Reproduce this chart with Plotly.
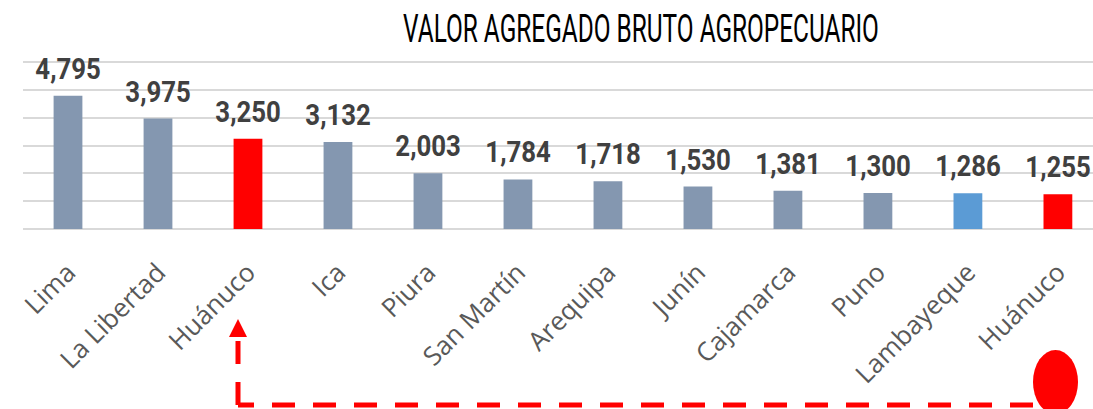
import plotly.graph_objects as go

# ── data ──────────────────────────────────────────────────────────────────────
REGIONS = ["Lima", "La Libertad", "Huánuco", "Ica", "Piura", "San Martín",
           "Arequipa", "Junín", "Cajamarca", "Puno", "Lambayeque", "Huánuco "]
VAB = [4795, 3975, 3250, 3132, 2003, 1784, 1718, 1530, 1381, 1300, 1286, 1255]
BAR_COLORS = ["#8497B0", "#8497B0", "#FF0000", "#8497B0", "#8497B0", "#8497B0",
              "#8497B0", "#8497B0", "#8497B0", "#8497B0", "#5B9BD5", "#FF0000"]
Y_MAX = 6300
Y_DTICK = 1000

W, H = 1093, 409
ML, MR, MT, MB = 23, 0, 54, 180
PW, PH = W - ML - MR, H - MT - MB


def px(x):
    """pixel x -> paper x"""
    return (x - ML) / PW


def py(y):
    """pixel y (from top) -> paper y"""
    return (H - MB - y) / PH


fig = go.Figure()
fig.add_trace(go.Bar(
    x=list(range(len(REGIONS))),
    y=VAB,
    width=0.32,
    marker=dict(color=BAR_COLORS, line=dict(width=0)),
    hoverinfo="skip",
))

# value labels above bars
for i, v in enumerate(VAB):
    fig.add_annotation(
        x=i, y=v, text=f"<b>{v:,}</b>", showarrow=False,
        xanchor="center", yanchor="bottom", yshift=8,
        font=dict(family="Roboto", size=30, color="#404040"),
    )

# top gridline, drawn by hand in paper space
fig.add_shape(type="line", xref="paper", yref="paper", layer="above",
              x0=0, x1=1, y0=py(62), y1=py(62),
              line=dict(color="#D9D9D9", width=2))

# red dashed arrow from the marker up to the Huánuco label
dash_line = dict(color="#FF0000", width=5, dash="23px,18px")
fig.add_shape(type="line", xref="paper", yref="paper",
              x0=px(1033), x1=px(238), y0=py(405), y1=py(405), line=dash_line)
fig.add_shape(type="line", xref="paper", yref="paper",
              x0=px(238), x1=px(238), y0=py(405), y1=py(338), line=dash_line)
fig.add_shape(type="path", xref="paper", yref="paper",
              path=f"M {px(229)} {py(337)} L {px(247)} {py(337)} L {px(238)} {py(319)} Z",
              fillcolor="#FF0000", line=dict(width=0))
fig.add_shape(type="circle", xref="paper", yref="paper",
              x0=px(1033), x1=px(1078), y0=py(350), y1=py(414),
              fillcolor="#FF0000", line=dict(width=0))

fig.update_layout(
    width=W, height=H,
    margin=dict(l=ML, r=MR, t=MT, b=MB),
    paper_bgcolor="white", plot_bgcolor="white",
    showlegend=False,
    title=dict(
        text="VALOR AGREGADO BRUTO AGROPECUARIO",
        x=641 / W, xanchor="center", xref="container",
        y=1 - 29 / H, yanchor="middle", yref="container",
        font=dict(family="Roboto", size=38, color="#000000"),
    ),
    xaxis=dict(
        range=[-0.5, 11.39],
        tickmode="array",
        tickvals=list(range(len(REGIONS))),
        ticktext=[r.strip() for r in REGIONS],
        tickangle=-45,
        ticklabelstandoff=22,
        tickfont=dict(family="Open Sans", size=26, color="#595959"),
        showgrid=False, showline=False, ticks="", zeroline=False,
    ),
    yaxis=dict(
        range=[0, Y_MAX],
        tickmode="linear", tick0=0, dtick=Y_DTICK,
        showticklabels=False,
        showgrid=True, gridcolor="#D9D9D9", gridwidth=1.5,
        zeroline=True, zerolinecolor="#D9D9D9", zerolinewidth=1.5,
        showline=False, ticks="",
    ),
)

# page margin off; squeeze title and value labels horizontally (condensed look)
POST = """
document.body.style.margin = '0px';
function squeeze(el, s) {
  var bb = el.getBBox();
  var cx = bb.x + bb.width / 2;
  el.setAttribute('transform', 'translate(' + cx + ',0) scale(' + s + ',1) translate(' + (-cx) + ',0)');
}
var t = document.querySelector('.gtitle');
if (t) { squeeze(t, 476 / t.getBBox().width); }
document.querySelectorAll('.annotation-text').forEach(function (a) { squeeze(a, 0.86); });
"""

fig.write_html("out.html", post_script=POST, config={"displayModeBar": False})
